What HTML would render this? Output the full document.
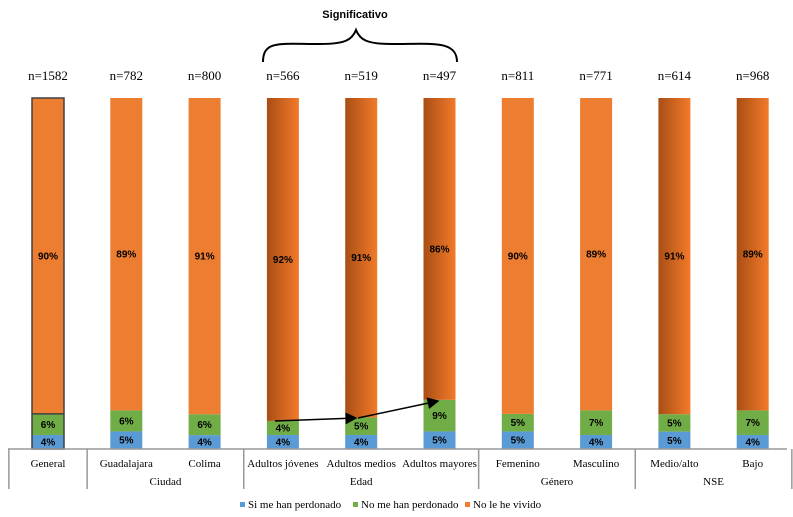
<!DOCTYPE html>
<html><head><meta charset="utf-8"><style>
body{margin:0;background:#fff}
svg{display:block}
.n{font-family:"Liberation Serif",serif;font-size:13px}
.p{font-family:"Liberation Sans",sans-serif;font-size:10px;font-weight:bold}
.c{font-family:"Liberation Serif",serif;font-size:11px}
</style></head><body>
<svg id="chart" width="793" height="517">
<defs>
<linearGradient id="gr" x1="0" x2="1" y1="0" y2="0"><stop offset="0" stop-color="#a94e15"/><stop offset="1" stop-color="#f27a2a"/></linearGradient>
<marker id="ar" markerWidth="8" markerHeight="8" refX="7" refY="4" orient="auto"><path d="M0,0L8,4L0,8z" fill="#000"/></marker>
</defs>
<text x="355" y="18" text-anchor="middle" font-family="Liberation Sans,sans-serif" font-size="11" font-weight="bold">Significativo</text>
<path d="M263,62 C263,40 280,44 320,44 C345,44 352,40 356,30 C360,40 367,44 392,44 C432,44 457,40 457,62" fill="none" stroke="#000" stroke-width="2"/>
<g id="bars"></g>
<g id="axis" stroke="#999" stroke-width="1.5" fill="none">
<line x1="8" y1="449" x2="787" y2="449"/>
</g>
<line x1="275" y1="421" x2="356" y2="418" stroke="#000" stroke-width="1.5" marker-end="url(#ar)"/>
<line x1="358" y1="418" x2="438" y2="401" stroke="#000" stroke-width="1.5" marker-end="url(#ar)"/>
<g>
<rect x="240" y="502" width="5" height="5" fill="#5b9bd5"/><text class="c" x="248" y="508">Si me han perdonado</text>
<rect x="353" y="502" width="5" height="5" fill="#70ad47"/><text class="c" x="361" y="508">No me han perdonado</text>
<rect x="465" y="502" width="5" height="5" fill="#ed7d31"/><text class="c" x="473" y="508">No le he vivido</text>
</g>
</svg>
<script>
const categories=["General","Guadalajara","Colima","Adultos jóvenes","Adultos medios","Adultos mayores","Femenino","Masculino","Medio/alto","Bajo"];
const nLabels=["n=1582","n=782","n=800","n=566","n=519","n=497","n=811","n=771","n=614","n=968"];
const siValues=[4,5,4,4,4,5,5,4,5,4];
const noValues=[6,6,6,4,5,9,5,7,5,7];
const noLoValues=[90,89,91,92,91,86,90,89,91,89];
const gradientBars=[false,false,false,true,true,true,false,false,true,true];
const groups=[{name:"",from:0,to:0},{name:"Ciudad",from:1,to:2},{name:"Edad",from:3,to:5},{name:"Género",from:6,to:7},{name:"NSE",from:8,to:9}];
const NS="http://www.w3.org/2000/svg";
const g=document.getElementById('bars');
const axisG=document.getElementById('axis');
const y0=449,y100=98;
function yScale(v,tot){return y0-(y0-y100)*v/tot;}
function xCenter(i){return 48+i*78.3;}
const bw=32;
function mk(tag,attrs,parent){const e=document.createElementNS(NS,tag);for(const k in attrs)e.setAttribute(k,attrs[k]);(parent||g).appendChild(e);return e;}
categories.forEach((c,i)=>{
  const x=xCenter(i)-bw/2;
  const tot=siValues[i]+noValues[i]+noLoValues[i];
  let base=0;
  const segs=[[siValues[i],"#5b9bd5","si"],[noValues[i],"#70ad47","no"],[noLoValues[i],gradientBars[i]?"url(#gr)":"#ed7d31","nolo"]];
  segs.forEach(s=>{
    const yt=yScale(base+s[0],tot),yb=yScale(base,tot);
    const r=mk('rect',{x:x,y:yt,width:bw,height:yb-yt,fill:s[1]});
    
    
    const t=mk('text',{x:xCenter(i),y:(yt+yb)/2+3.5,'text-anchor':'middle',class:'p'});
    t.textContent=s[0]+'%';
    
    
    base+=s[0];
  });
  if(i===0){
    const b=mk('rect',{x:x,y:yScale(tot,tot),width:bw,height:y0-yScale(tot,tot),fill:'none',stroke:'#404040','stroke-width':1.5});
    
    
    const yy=yScale(siValues[0]+noValues[0],tot);
    mk('line',{x1:x,x2:x+bw,y1:yy,y2:yy,stroke:'#404040','stroke-width':1.5});
  }
  const n=mk('text',{x:xCenter(i),y:80,'text-anchor':'middle',class:'n'});
  n.textContent=nLabels[i];
  
  
  const cl=mk('text',{x:xCenter(i),y:467,'text-anchor':'middle',class:'c'});
  cl.textContent=c;
  
  
});
const half=39.15;
groups.forEach((gr,k)=>{
  const xl=xCenter(gr.from)-half, xr=xCenter(gr.to)+half;
  mk('line',{x1:xl,x2:xl,y1:449,y2:489},axisG);
  if(k===groups.length-1) mk('line',{x1:xr,x2:xr,y1:449,y2:489},axisG);
  if(gr.name){
    const t=mk('text',{x:(xl+xr)/2,y:485,'text-anchor':'middle',class:'c'});
    t.textContent=gr.name;
    
    
  }
});
</script>
</body></html>
